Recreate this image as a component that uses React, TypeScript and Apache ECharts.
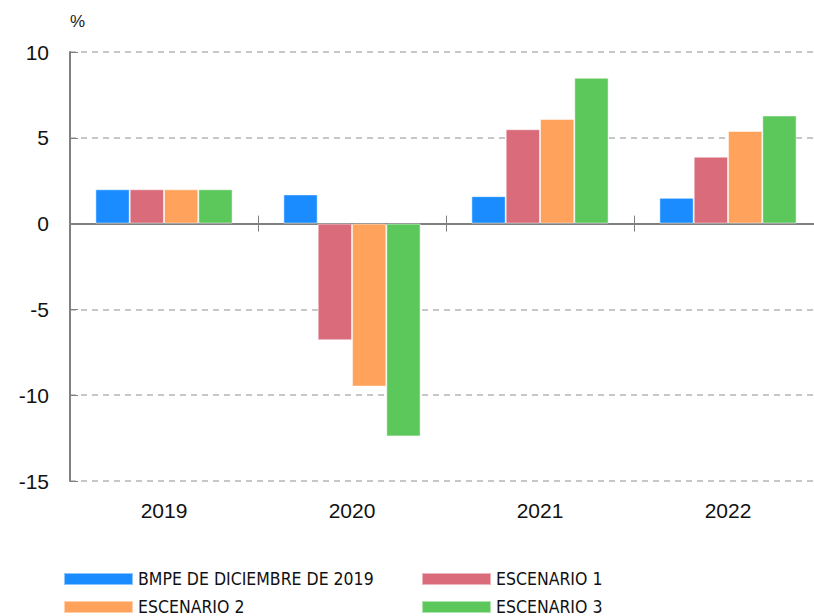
import React, { useEffect, useRef } from "react";
import * as echarts from "echarts";

const categories = ["2019", "2020", "2021", "2022"];
const seriesNames = ["BMPE DE DICIEMBRE DE 2019", "ESCENARIO 1", "ESCENARIO 2", "ESCENARIO 3"];
const bmpe = [2.0, 1.7, 1.6, 1.5];
const esc1 = [2.0, -6.8, 5.5, 3.9];
const esc2 = [2.0, -9.5, 6.1, 5.4];
const esc3 = [2.0, -12.4, 8.5, 6.3];
const colors = ["#1a8cff", "#d96b7a", "#ffa35c", "#5cc85c"];
const yMin = -15;
const yMax = 10;
const yStep = 5;

const mainFont = "Liberation Sans, Arial, Helvetica, sans-serif";
const condFont = "DejaVu Sans Condensed, Liberation Sans, sans-serif";

export default function App() {
  const ref = useRef<HTMLDivElement>(null);
  useEffect(() => {
    if (!ref.current) return;
    const chart = echarts.init(ref.current, undefined, { renderer: "svg" });
    const values = [bmpe, esc1, esc2, esc3];
    const legendFont = {
      fontFamily: condFont,
      fontSize: 17.5,
      color: "#111",
    };
    const gridBox = { left: 70, right: -8, top: 52, bottom: 135, outerBoundsMode: "none", containLabel: false };
    const legendBase = {
      orient: "vertical",
      top: 570,
      height: 60,
      itemWidth: 69,
      itemHeight: 12,
      itemGap: 10,
      icon: "rect",
      textStyle: legendFont,
      padding: 0,
    };
    chart.setOption({
      animation: false,
      color: colors,
      grid: [gridBox, { ...gridBox }],
      legend: [
        { ...legendBase, data: [seriesNames[0], seriesNames[2]], left: 63 },
        { ...legendBase, data: [seriesNames[1], seriesNames[3]], left: 421 },
      ],
      graphic: [
        {
          type: "text",
          left: 70,
          top: 13,
          style: { text: "%", fontSize: 17, fontFamily: mainFont, fill: "#222" },
        },
      ],
      xAxis: [
        {
          type: "category",
          gridIndex: 0,
          data: categories,
          position: "bottom",
          axisLine: { show: false, onZero: false },
          axisTick: { show: false },
          axisLabel: {
            show: true,
            margin: 19,
            fontSize: 21,
            color: "#111",
            fontFamily: mainFont,
          },
        },
        {
          type: "category",
          gridIndex: 0,
          data: categories,
          position: "top",
          axisLine: { show: true, onZero: true, lineStyle: { color: "#808080", width: 2 } },
          axisTick: { show: true, length: 8, lineStyle: { color: "#808080", width: 1 } },
          axisLabel: { show: false },
          splitLine: { show: false },
        },
        {
          type: "category",
          gridIndex: 1,
          data: categories,
          position: "bottom",
          axisLine: { show: true, onZero: true, lineStyle: { color: "#808080", width: 2 } },
          axisTick: { show: true, length: 8, lineStyle: { color: "#808080", width: 1 } },
          axisLabel: { show: false },
          splitLine: { show: false },
        },
      ],
      yAxis: [
        {
          type: "value",
          gridIndex: 0,
          min: yMin,
          max: yMax,
          interval: yStep,
          axisLine: { show: true, lineStyle: { color: "#808080", width: 2 } },
          axisTick: { show: true, inside: true, length: 8, lineStyle: { color: "#808080" } },
          axisLabel: {
            fontSize: 21,
            color: "#111",
            margin: 21,
            fontFamily: mainFont,
          },
          splitLine: { show: true, lineStyle: { color: "#b5b5b5", type: [6, 5], width: 1.5 } },
        },
        {
          type: "value",
          gridIndex: 1,
          min: yMin,
          max: yMax,
          interval: yStep,
          axisLine: { show: false },
          axisTick: { show: false },
          axisLabel: { show: false },
          splitLine: { show: false },
        },
      ],
      series: seriesNames.map((name, i) => ({
        name,
        type: "bar",
        xAxisIndex: 0,
        yAxisIndex: 0,
        data: values[i],
        barGap: "0%",
        barCategoryGap: "27%",
        itemStyle: { color: colors[i], borderColor: "rgba(255,255,255,0.5)", borderWidth: 1 },
      })),
    });
    return () => chart.dispose();
  }, []);
  return <div ref={ref} style={{ position: "absolute", left: 0, top: 0, width: 814, height: 616 }} />;
}
